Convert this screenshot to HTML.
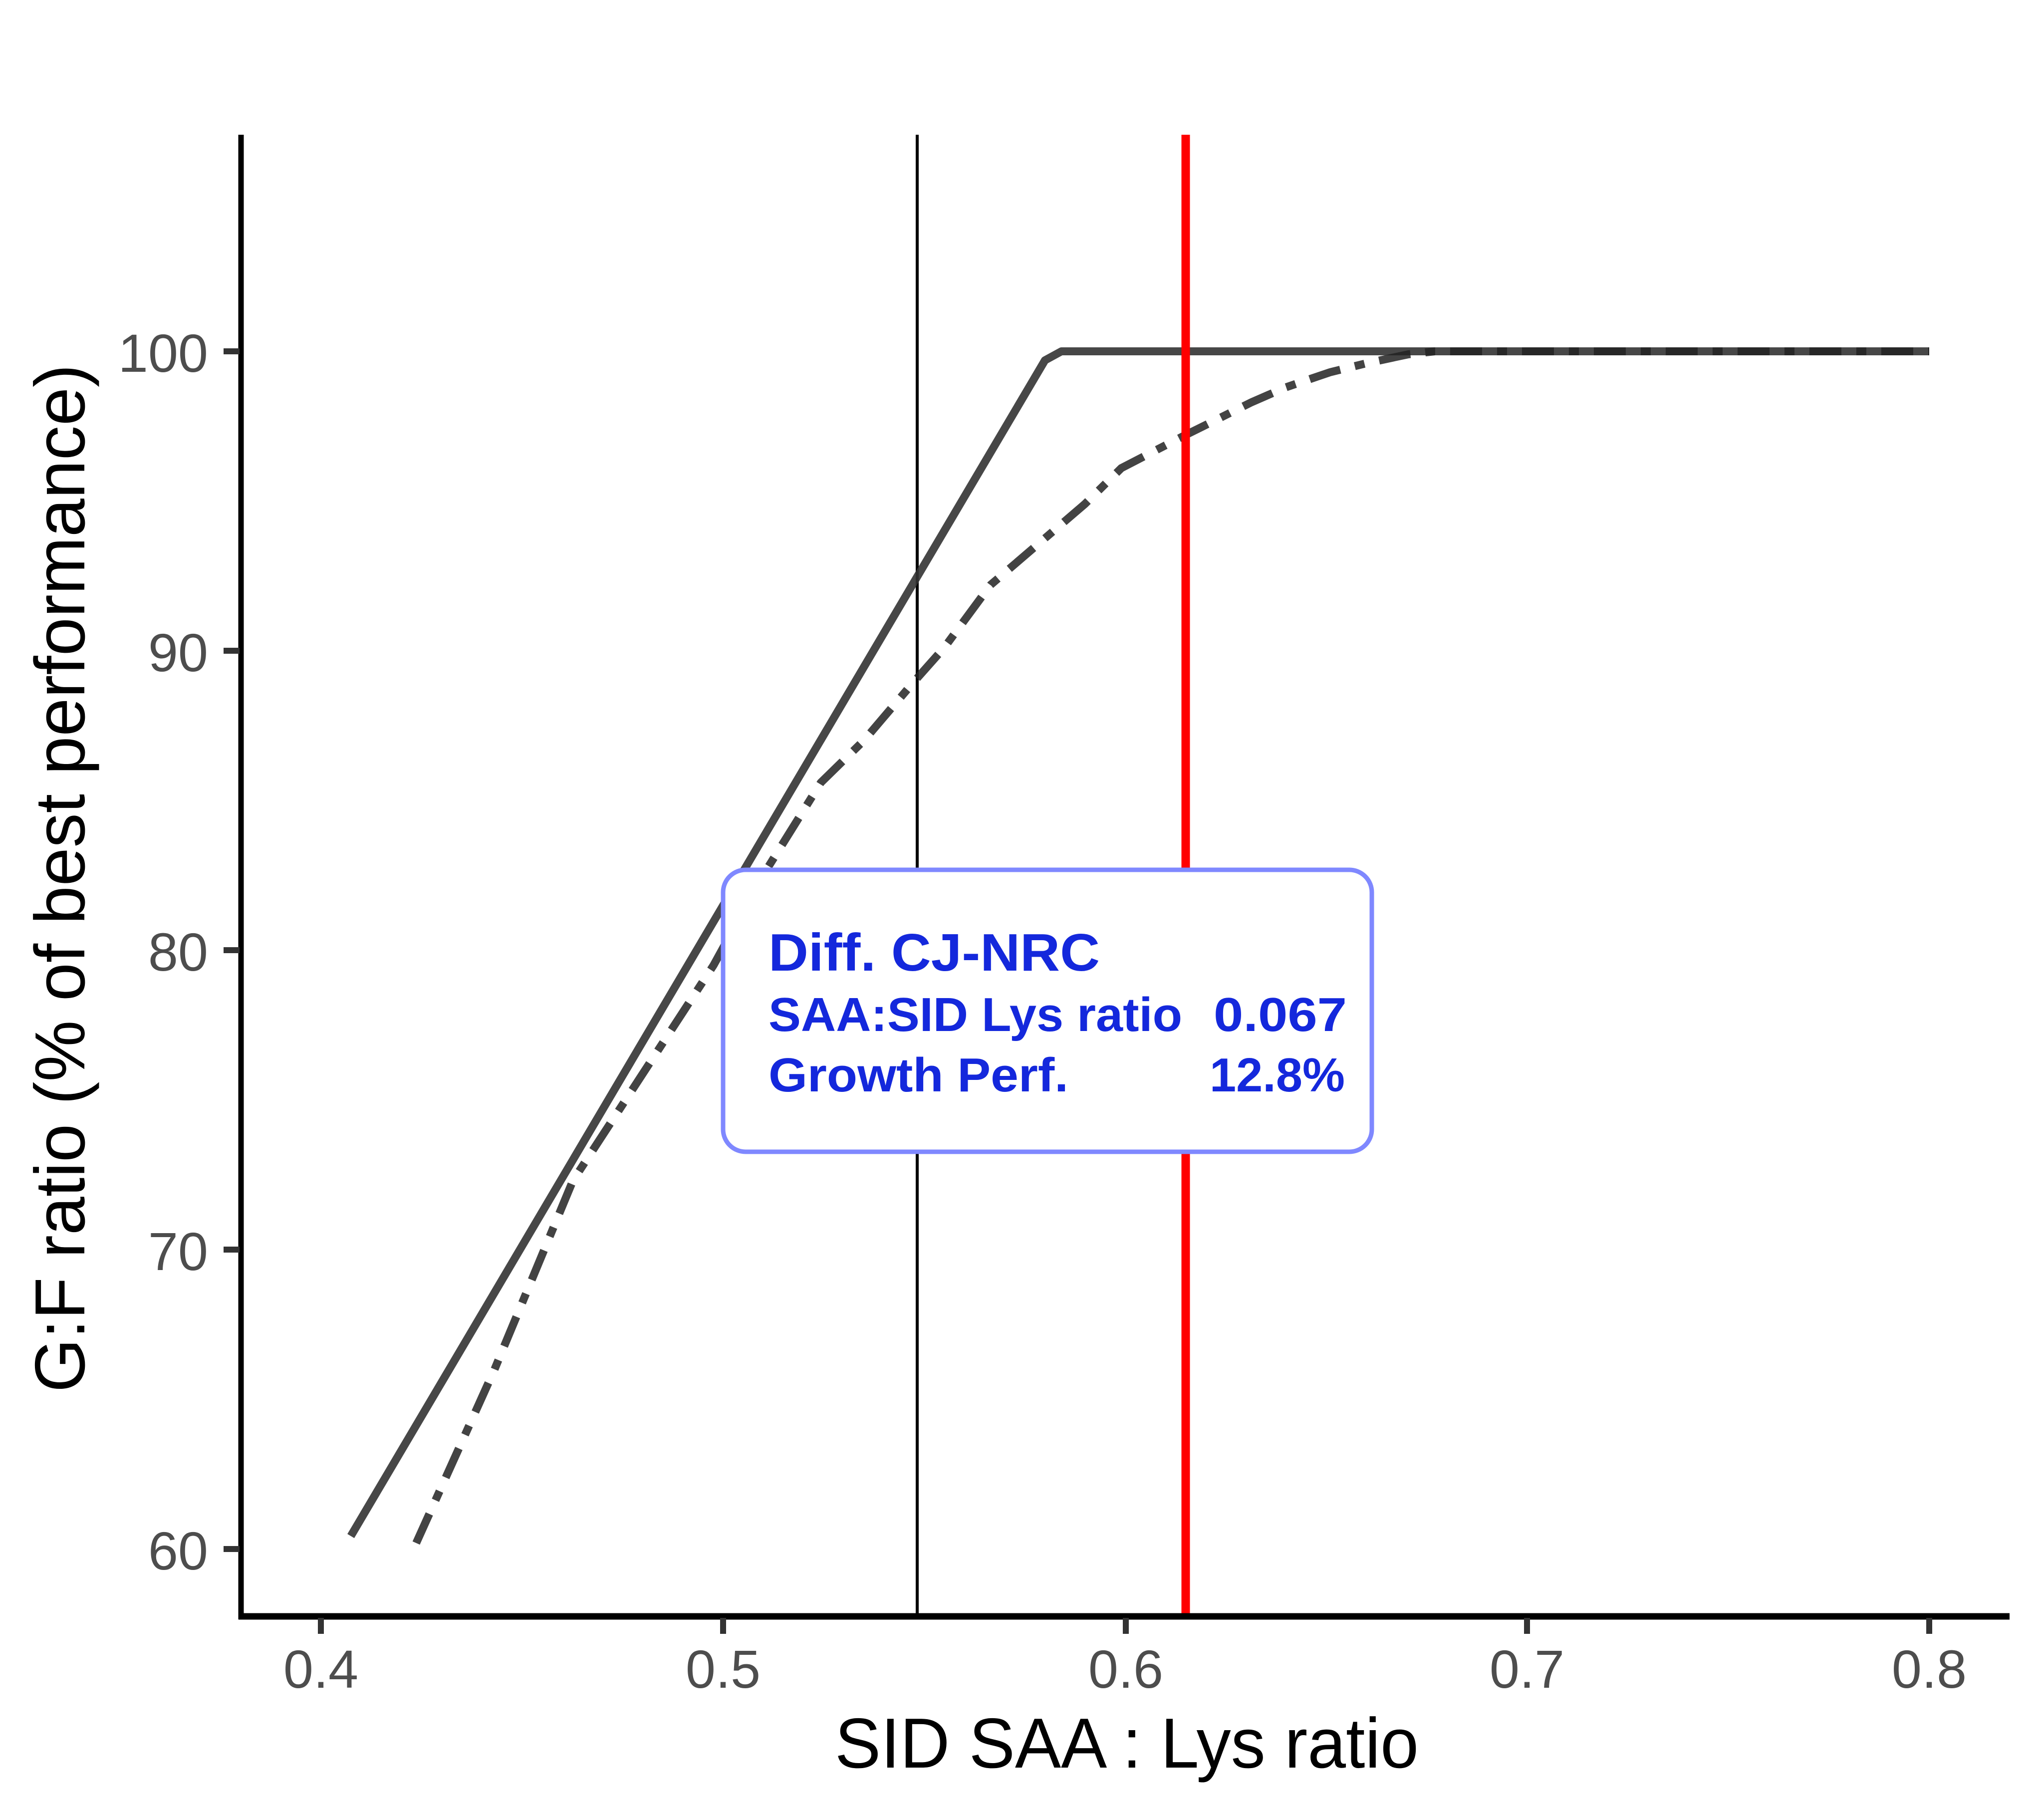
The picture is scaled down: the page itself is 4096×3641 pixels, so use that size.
<!DOCTYPE html>
<html><head><meta charset="utf-8"><style>html,body{margin:0;padding:0;background:#fff;}svg{display:block;}</style></head>
<body>
<svg width="4096" height="3641" viewBox="0 0 4096 3641" xmlns="http://www.w3.org/2000/svg">
<rect width="4096" height="3641" fill="#fff"/>
<line x1="1838" y1="270" x2="1838" y2="3239" stroke="#000" stroke-width="6"/>
<polyline points="703,3078 2094,722 2127,704 3866,704" fill="none" stroke="#333" stroke-opacity="0.9" stroke-width="16" stroke-linejoin="round"/>
<polyline points="834,3092 991,2744 1148,2366 1430,1934 1529,1754 1645,1568 1731,1484 1828,1370 1892,1298 1985,1172 2090,1082 2174,1010 2247,938 2375,872 2508,806 2577,776 2665,746 2738,728 2822,710 2875,704 3866,704" fill="none" stroke="#222" stroke-opacity="0.85" stroke-width="16" stroke-dasharray="64 30 20 30"/>
<line x1="2376" y1="270" x2="2376" y2="3239" stroke="#ff0000" stroke-width="17"/>
<line x1="483" y1="270" x2="483" y2="3245" stroke="#000" stroke-width="11"/>
<line x1="478" y1="3239" x2="4027" y2="3239" stroke="#000" stroke-width="13"/>
<g stroke="#333" stroke-width="12">
<line x1="448" y1="704" x2="480" y2="704"/>
<line x1="448" y1="1304" x2="480" y2="1304"/>
<line x1="448" y1="1904" x2="480" y2="1904"/>
<line x1="448" y1="2504" x2="480" y2="2504"/>
<line x1="448" y1="3104" x2="480" y2="3104"/>
</g>
<g stroke="#333" stroke-width="12">
<line x1="643" y1="3242" x2="643" y2="3274"/>
<line x1="1449" y1="3242" x2="1449" y2="3274"/>
<line x1="2256" y1="3242" x2="2256" y2="3274"/>
<line x1="3060" y1="3242" x2="3060" y2="3274"/>
<line x1="3866" y1="3242" x2="3866" y2="3274"/>
</g>
<g font-family="Liberation Sans, Arial, sans-serif" font-size="108" fill="#4d4d4d" text-anchor="end">
<text x="417" y="745">100</text>
<text x="417" y="1345">90</text>
<text x="417" y="1945">80</text>
<text x="417" y="2545">70</text>
<text x="417" y="3145">60</text>
</g>
<g font-family="Liberation Sans, Arial, sans-serif" font-size="108" fill="#4d4d4d" text-anchor="middle">
<text x="643" y="3382">0.4</text>
<text x="1449" y="3382">0.5</text>
<text x="2256" y="3382">0.6</text>
<text x="3060" y="3382">0.7</text>
<text x="3866" y="3382">0.8</text>
</g>
<text x="1673" y="3542" font-family="Liberation Sans, Arial, sans-serif" font-size="142" fill="#000" textLength="1170" lengthAdjust="spacingAndGlyphs">SID SAA : Lys ratio</text>
<text transform="translate(169,2790) rotate(-90)" x="0" y="0" font-family="Liberation Sans, Arial, sans-serif" font-size="142" fill="#000" textLength="2060" lengthAdjust="spacingAndGlyphs">G:F ratio (% of best performance)</text>
<rect x="1449" y="1743" width="1300" height="565" rx="45" ry="45" fill="#fff" stroke="#7f88ff" stroke-width="9"/>
<g font-family="Liberation Sans, Arial, sans-serif" font-weight="bold" fill="#1428dc">
<text x="1540" y="1945" font-size="106" textLength="664" lengthAdjust="spacingAndGlyphs">Diff. CJ-NRC</text>
<text x="1540" y="2066" font-size="96" textLength="829" lengthAdjust="spacingAndGlyphs">SAA:SID Lys ratio</text>
<text x="2432" y="2066" font-size="96" textLength="267" lengthAdjust="spacingAndGlyphs">0.067</text>
<text x="1540" y="2187" font-size="96" textLength="601" lengthAdjust="spacingAndGlyphs">Growth Perf.</text>
<text x="2424" y="2187" font-size="96" textLength="271" lengthAdjust="spacingAndGlyphs">12.8%</text>
</g>
</svg>
</body></html>
